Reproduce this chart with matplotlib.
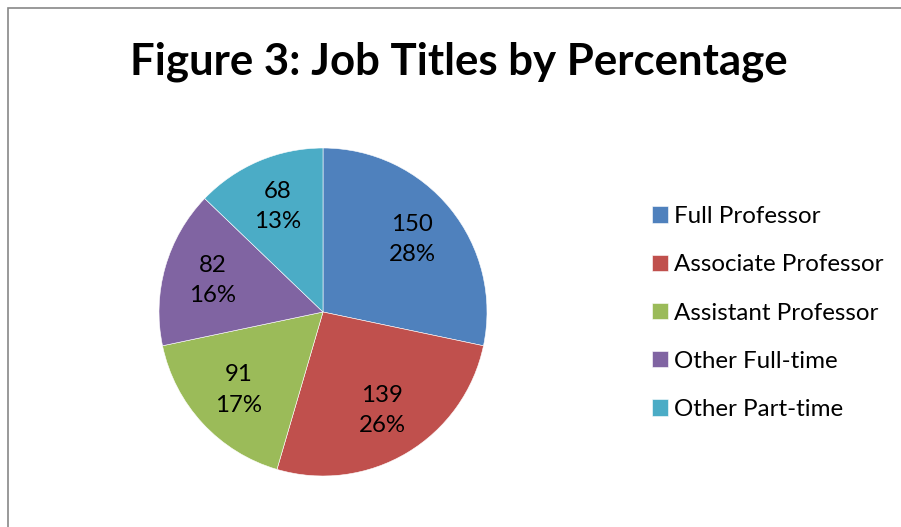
import matplotlib.pyplot as plt
from matplotlib.patches import Rectangle

# Job titles and headcounts
titles = ['Full Professor', 'Associate Professor', 'Assistant Professor',
          'Other Full-time', 'Other Part-time']
counts = [150, 139, 91, 82, 68]
percents = [28, 26, 17, 16, 13]
colors = ['#4F81BD', '#C0504D', '#9BBB59', '#8064A2', '#4BACC6']

plt.rcParams['font.family'] = ['Lato', 'DejaVu Sans']

W, H = 901, 527
fig = plt.figure(figsize=(W / 100, H / 100), dpi=100)

# chart frame (left and top edges show)
fig.add_artist(Rectangle((8 / W, -0.1), 1.2, (H - 8) / H + 0.1,
                         transform=fig.transFigure, fill=False,
                         edgecolor='#878787', linewidth=1.2))

fig.text(459 / W, 1 - 62 / H, 'Figure 3: Job Titles by Percentage',
         ha='center', va='center', fontsize=31.5, fontweight='bold')

# pie area: centre (323, 312), radius 164 px
cx, cy, r = 323, 312, 164
ax = fig.add_axes([(cx - r) / W, (H - cy - r) / H, 2 * r / W, 2 * r / H])

labels = [f'{c}\n{p}%' for c, p in zip(counts, percents)]
wedges, texts = ax.pie(counts, colors=colors, startangle=90, counterclock=False,
                       labels=labels, labeldistance=0.7,
                       wedgeprops=dict(edgecolor='white', linewidth=0.4))
for t in texts:
    t.set_ha('center')
    t.set_va('center')
    t.set_fontsize(17.3)
    t.set_linespacing(1.55)
    t.set_multialignment('center')
ax.set_xlim(-1, 1)
ax.set_ylim(-1, 1)

fig.legend(wedges, titles, loc='center left',
           bbox_to_anchor=(642 / W, 1 - 313 / H), frameon=False,
           fontsize=17.4, handlelength=0.66, handleheight=0.66,
           handletextpad=0.25, labelspacing=1.13, borderaxespad=0)

fig.savefig('out.png', dpi=100)
